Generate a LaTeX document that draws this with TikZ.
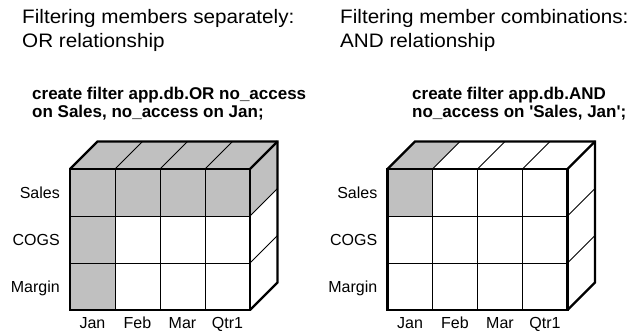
\documentclass[tikz,border=0pt]{standalone}
\usepackage{fontspec}
\setmainfont{Liberation Sans}
\newfontfamily\titlefont{Liberation Sans}[FakeStretch=1.06]
\definecolor{cellgray}{RGB}{192,192,192}
\newcommand\cubeW{45}
\newcommand\cubeH{47}
\newcommand\cubeD{27.5}
\newcommand\cubeframe{%
  \foreach \i in {1,2,3} {
    \draw[thinline] (\i*\cubeW,0) -- (\i*\cubeW,3*\cubeH);
    \draw[thinline] (\i*\cubeW,0) -- ++(\cubeD,-\cubeD);
  }
  \foreach \j in {1,2} {
    \draw[thinline] (0,\j*\cubeH) -- (4*\cubeW,\j*\cubeH);
    \draw[thinline] (4*\cubeW,\j*\cubeH) -- ++(\cubeD,-\cubeD);
  }
  \draw[thickline] (0,0) rectangle (4*\cubeW,3*\cubeH);
  \draw[thickline] (0,0) -- ++(\cubeD,-\cubeD) -- (4*\cubeW+\cubeD,-\cubeD)
     -- (4*\cubeW+\cubeD,3*\cubeH-\cubeD) -- (4*\cubeW,3*\cubeH);
  \draw[thickline] (4*\cubeW,0) -- ++(\cubeD,-\cubeD);
}
\begin{document}
\begin{tikzpicture}[x=1pt,y=-1pt,
  thinline/.style={line width=0.9pt},
  thickline/.style={line width=2.3pt,line join=miter},
  title/.style={anchor=base west,inner sep=0pt,align=left,font=\titlefont\fontsize{19.5}{23.5}\selectfont},
  code/.style={anchor=base west,inner sep=0pt,align=left,font=\bfseries\fontsize{17}{18.5}\selectfont},
  rowlab/.style={anchor=base east,inner sep=0pt,font=\fontsize{16}{18}\selectfont},
  collab/.style={anchor=base,inner sep=0pt,font=\fontsize{16}{18}\selectfont}]
\useasboundingbox (0,0) rectangle (632,331);

% ---- titles (base anchor = last line) ----
\node[title] (t1) at (22,47.5) {Filtering members separately:\\OR relationship};
\node[title] (t2) at (340,47.5) {Filtering member combinations:\\AND relationship};
\node[code] (c1) at (32,118) {create filter app.db.OR no\_access\\on Sales, no\_access on Jan;};
\node[code] (c2) at (412,118) {create filter app.db.AND\\no\_access on \textquotesingle Sales, Jan\textquotesingle;};

% ---- left cube (OR) ----
\begin{scope}[shift={(70,169)}]
  \fill[cellgray] (0,0) -- (\cubeD,-\cubeD) -- (4*\cubeW+\cubeD,-\cubeD) -- (4*\cubeW,0) -- cycle;
  \fill[cellgray] (4*\cubeW,0) -- ++(\cubeD,-\cubeD) -- ++(0,\cubeH) -- (4*\cubeW,\cubeH) -- cycle;
  \fill[cellgray] (0,0) rectangle (4*\cubeW,\cubeH);
  \fill[cellgray] (0,0) rectangle (\cubeW,3*\cubeH);
  \cubeframe
  \node[rowlab] (l1) at (-10,0.5*\cubeH+5.8) {Sales};
  \node[rowlab] (l2) at (-10,1.5*\cubeH+5.8) {COGS};
  \node[rowlab] (l3) at (-10,2.5*\cubeH+5.8) {Margin};
  \node[collab] (m1) at (0.5*\cubeW,3*\cubeH+18) {Jan};
  \node[collab] (m2) at (1.5*\cubeW,3*\cubeH+18) {Feb};
  \node[collab] (m3) at (2.5*\cubeW,3*\cubeH+18) {Mar};
  \node[collab] (m4) at (3.5*\cubeW,3*\cubeH+18) {Qtr1};
\end{scope}

% ---- right cube (AND) ----
\begin{scope}[shift={(387.5,169)}]
  \fill[cellgray] (0,0) -- (\cubeD,-\cubeD) -- (\cubeW+\cubeD,-\cubeD) -- (\cubeW,0) -- cycle;
  \fill[cellgray] (0,0) rectangle (\cubeW,\cubeH);
  \cubeframe
  \node[rowlab] (r1) at (-10,0.5*\cubeH+5.8) {Sales};
  \node[rowlab] (r2) at (-10,1.5*\cubeH+5.8) {COGS};
  \node[rowlab] (r3) at (-10,2.5*\cubeH+5.8) {Margin};
  \node[collab] (n1) at (0.5*\cubeW,3*\cubeH+18) {Jan};
  \node[collab] (n2) at (1.5*\cubeW,3*\cubeH+18) {Feb};
  \node[collab] (n3) at (2.5*\cubeW,3*\cubeH+18) {Mar};
  \node[collab] (n4) at (3.5*\cubeW,3*\cubeH+18) {Qtr1};
\end{scope}
\end{tikzpicture}
\end{document}
